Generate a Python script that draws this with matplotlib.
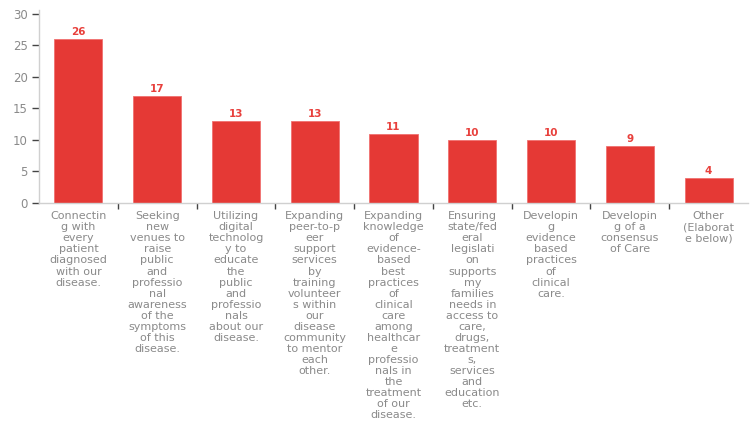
import numpy as np
import matplotlib
matplotlib.use('Agg')
import matplotlib.pyplot as plt

# Priority areas and number of responses for each
categories = [
    "Connectin\ng with\nevery\npatient\ndiagnosed\nwith our\ndisease.",
    "Seeking\nnew\nvenues to\nraise\npublic\nand\nprofessio\nnal\nawareness\nof the\nsymptoms\nof this\ndisease.",
    "Utilizing\ndigital\ntechnolog\ny to\neducate\nthe\npublic\nand\nprofessio\nnals\nabout our\ndisease.",
    "Expanding\npeer-to-p\neer\nsupport\nservices\nby\ntraining\nvolunteer\ns within\nour\ndisease\ncommunity\nto mentor\neach\nother.",
    "Expanding\nknowledge\nof\nevidence-\nbased\nbest\npractices\nof\nclinical\ncare\namong\nhealthcar\ne\nprofessio\nnals in\nthe\ntreatment\nof our\ndisease.",
    "Ensuring\nstate/fed\neral\nlegislati\non\nsupports\nmy\nfamilies\nneeds in\naccess to\ncare,\ndrugs,\ntreatment\ns,\nservices\nand\neducation\netc.",
    "Developin\ng\nevidence\nbased\npractices\nof\nclinical\ncare.",
    "Developin\ng of a\nconsensus\nof Care",
    "Other\n(Elaborat\ne below)",
]
counts = [26, 17, 13, 13, 11, 10, 10, 9, 4]
yticks = [0, 5, 10, 15, 20, 25, 30]

bar_red = '#e53935'
text_grey = '#8a8a8a'

fig = plt.figure(figsize=(7.52, 4.23), dpi=100)
ax = fig.add_axes([39/752, 1 - 203/423, (748 - 39)/752, (203 - 10)/423])

x = np.arange(len(counts))
bars = ax.bar(x, counts, width=0.61, color=bar_red, edgecolor='#f07070', linewidth=0.6)

for xi, c in zip(x, counts):
    ax.text(xi, c + 0.3, str(c), ha='center', va='bottom', color='#e8403c',
            fontsize=7.5, fontweight='semibold')

ax.set_xlim(-0.5, len(counts) - 0.5)
ax.set_ylim(0, 30.63)
ax.set_yticks(yticks)
ax.tick_params(axis='y', colors='#444444', labelcolor=text_grey, labelsize=8.5, length=5, width=1, pad=3)

# category labels sit under each bar, separator ticks between categories
ax.set_xticks(x)
ax.set_xticklabels(categories, fontsize=8, color=text_grey, linespacing=1.13, va='top')
ax.tick_params(axis='x', which='major', length=0, pad=6)
ax.set_xticks(np.arange(0.5, len(counts) - 1, 1.0), minor=True)
ax.tick_params(axis='x', which='minor', length=4, width=1, colors='#444444', direction='out')

for side in ['top', 'right']:
    ax.spines[side].set_visible(False)
for side in ['left', 'bottom']:
    ax.spines[side].set_color('#d0d0d0')
    ax.spines[side].set_linewidth(1)

fig.savefig('out.png', dpi=100)
plt.close(fig)
